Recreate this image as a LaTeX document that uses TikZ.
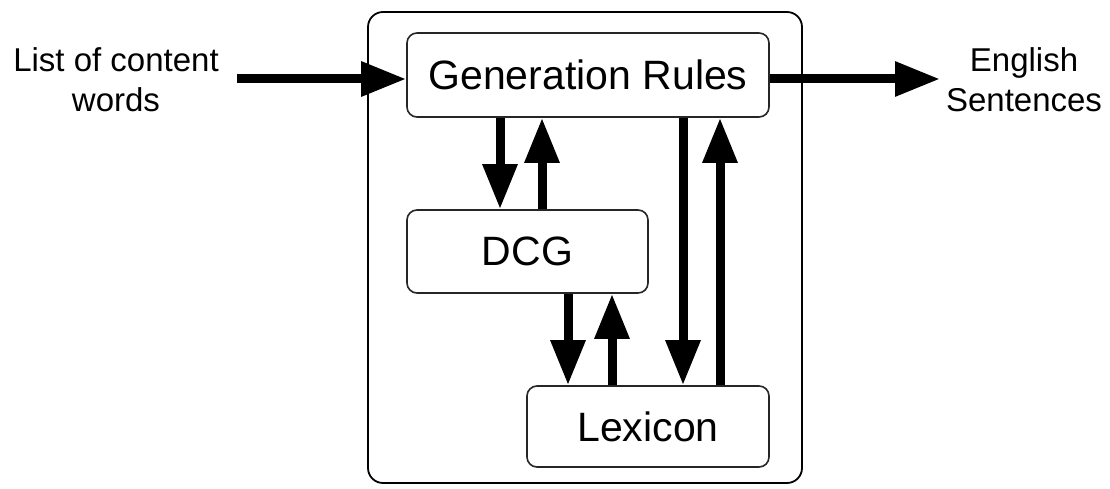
\documentclass[tikz,border=0pt]{standalone}
\usepackage{fontspec}
\setmainfont{Liberation Sans}
\usetikzlibrary{arrows.meta}
\tikzset{
  blk/.style={draw=black!85, line width=1.6pt, rounded corners=10pt, inner sep=0pt, font=\fontsize{41}{46}\selectfont},
  lbl/.style={align=center, inner sep=0pt, font=\fontsize{33}{40}\selectfont},
  arr/.style={line width=9pt, -{Triangle[length=45pt,width=33pt]}},
}
\begin{document}
\begin{tikzpicture}[x=1pt,y=-1pt]
\useasboundingbox (0,0) rectangle (1110,489);
\draw[line width=1.8pt, rounded corners=15pt] (368,12) rectangle (802,483);
\node[blk, minimum width=362pt, minimum height=84pt] (gr) at (588,75) {Generation Rules};
\node[blk, minimum width=241pt, minimum height=83pt] (dcg) at (527.5,251.5) {DCG};
\node[blk, minimum width=242pt, minimum height=81pt] (lex) at (648,426.5) {Lexicon};
\node[lbl] (in) at (116,80) {List of content\\words};
\node[lbl] (out) at (1024,79.5) {English\\Sentences};
\coordinate (instart) at (237,79);
\coordinate (outend) at (940,79);
\coordinate (x1) at (500,0);
\coordinate (x2) at (542,0);
\coordinate (x3) at (568,0);
\coordinate (x4) at (612,0);
\coordinate (x5) at (683,0);
\coordinate (x6) at (720,0);
\draw[arr] (instart) -- (gr.west |- instart);
\draw[arr] (gr.east |- outend) -- (outend);
\draw[arr] (gr.south -| x1) -- (dcg.north -| x1);
\draw[arr] (dcg.north -| x2) -- (gr.south -| x2);
\draw[arr] (dcg.south -| x3) -- (lex.north -| x3);
\draw[arr] (lex.north -| x4) -- (dcg.south -| x4);
\draw[arr] (gr.south -| x5) -- (lex.north -| x5);
\draw[arr] (lex.north -| x6) -- (gr.south -| x6);
\end{tikzpicture}
\end{document}
